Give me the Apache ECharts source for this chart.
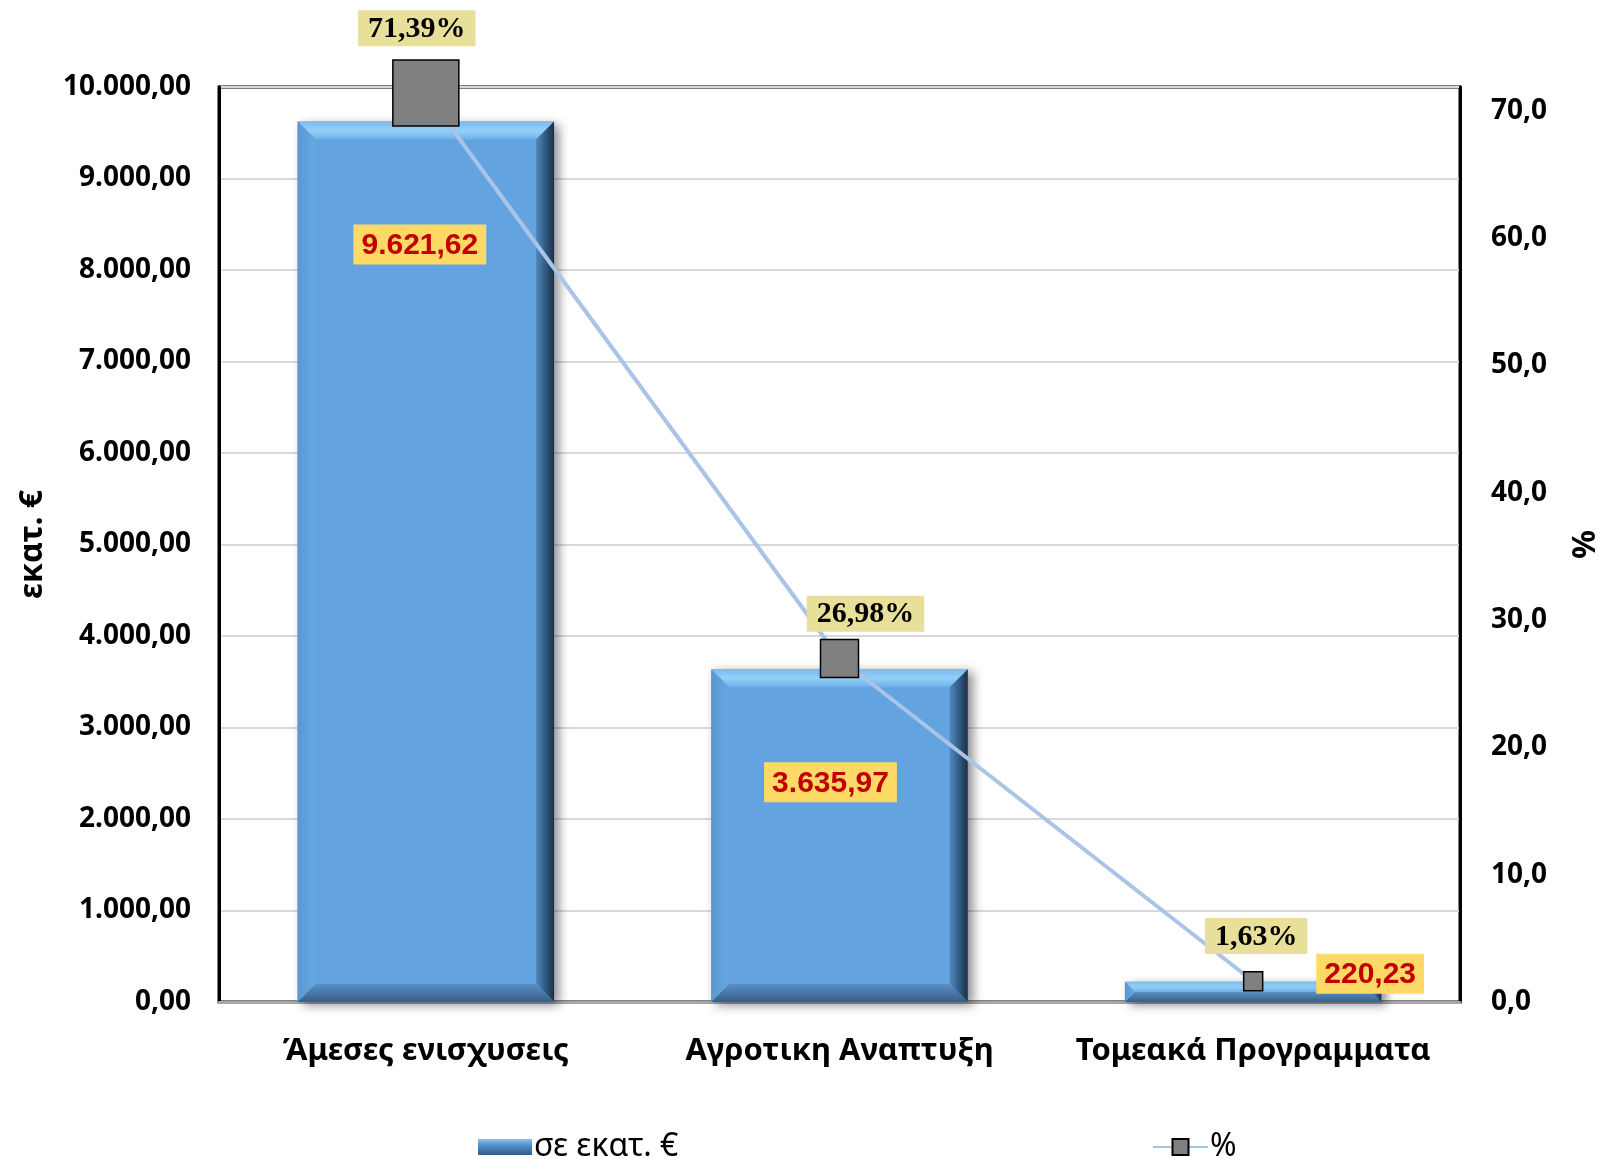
<!DOCTYPE html>
<html>
<head>
<meta charset="utf-8">
<script src="https://cdn.jsdelivr.net/npm/echarts@6/dist/echarts.min.js"></script>
<style>
html,body{margin:0;padding:0;background:#fff;overflow:hidden;}
#chart{width:1599px;height:1159px;}
</style>
</head>
<body>
<div id="chart"></div>
<script>
const categories = ['Άμεσες ενισχυσεις', 'Αγροτικη Αναπτυξη', 'Τομεακά Προγραμματα'];
const amounts = [9621.62, 3635.97, 220.23];
const percents = [71.39, 26.98, 1.63];
const barSeriesName = 'σε εκατ. €';
const pctSeriesName = '%';
const leftAxisName = 'εκατ. €';
const rightAxisName = '%';

function fmtGr(v, d) {
  const s = Number(v).toFixed(d);
  const parts = s.split('.');
  parts[0] = parts[0].replace(/\B(?=(\d{3})+(?!\d))/g, '.');
  return parts.length > 1 ? parts[0] + ',' + parts[1] : parts[0];
}

const chart = echarts.init(document.getElementById('chart'), null, {renderer: 'canvas', width: 1599, height: 1159});

const barLabelPos = [
  {position: 'insideTop', offset: [-6, 98]},
  {position: 'insideTop', offset: [-9, 88]},
  {position: 'top', offset: [117, 17]}
];
const pctLabelPos = [
  {offset: [-9, -8]},
  {offset: [26, -2]},
  {offset: [3, -12]}
];
const markerSizes = [66, 38, 19];

function renderBevelBar(params, api) {
  const idx = api.value(0);
  const v = api.value(1);
  const top = api.coord([idx, v]);
  const base = api.coord([idx, 0]);
  const w = api.size([1, 0])[0] * 0.62;
  const x0 = top[0] - w / 2, x1 = top[0] + w / 2;
  const y0 = top[1], y1 = base[1];
  const h = y1 - y0;
  const b = Math.min(18, h / 2);
  return {
    type: 'group',
    children: [
      {type: 'rect', shape: {x: x0, y: y0, width: w, height: h},
       style: {fill: '#63A4E0', shadowBlur: 10, shadowColor: 'rgba(0,0,0,0.45)', shadowOffsetX: 5, shadowOffsetY: 3}},
      {type: 'polygon', shape: {points: [[x0, y0], [x1, y0], [x1 - b, y0 + b], [x0 + b, y0 + b]]},
       style: {fill: new echarts.graphic.LinearGradient(0, 0, 0, 1, [
         {offset: 0, color: '#7DBBEE'}, {offset: 0.5, color: '#93CFF8'}, {offset: 1, color: '#6EAFE8'}])}},
      {type: 'polygon', shape: {points: [[x0, y0], [x0 + b, y0 + b], [x0 + b, y1 - b], [x0, y1]]},
       style: {fill: new echarts.graphic.LinearGradient(0, 0, 1, 0, [
         {offset: 0, color: '#5A97D0'}, {offset: 1, color: '#66A8E3'}])}},
      {type: 'polygon', shape: {points: [[x1, y0], [x1, y1], [x1 - b, y1 - b], [x1 - b, y0 + b]]},
       style: {fill: new echarts.graphic.LinearGradient(0, 0, 1, 0, [
         {offset: 0, color: '#4F89BF'}, {offset: 0.6, color: '#2E5378'}, {offset: 1, color: '#1B2F45'}])}},
      {type: 'polygon', shape: {points: [[x0, y1], [x1, y1], [x1 - b, y1 - b], [x0 + b, y1 - b]]},
       style: {fill: new echarts.graphic.LinearGradient(0, 0, 0, 1, [
         {offset: 0, color: '#5890C6'}, {offset: 1, color: '#385E86'}])}}
    ]
  };
}

const option = {
  backgroundColor: '#ffffff',
  animation: false,
  grid: {left: 219, right: 139, top: 87, bottom: 157, show: true, borderColor: '#000', borderWidth: 3,
         containLabel: false, outerBoundsMode: 'none'},
  legend: [
    {
      data: [{name: barSeriesName, icon: 'rect', itemStyle: {color: new echarts.graphic.LinearGradient(0, 0, 0, 1, [
        {offset: 0, color: '#8CC6F2'}, {offset: 0.3, color: '#5B9BD5'}, {offset: 1, color: '#2E5A85'}]), opacity: 1}}],
      left: 473, top: 1126, padding: 5, itemWidth: 54, itemHeight: 16, itemGap: 4,
      textStyle: {fontFamily: 'Noto Sans', fontSize: 32, color: '#000', padding: [0, 0, 0, -3]}
    },
    {
      data: [pctSeriesName],
      left: 1147, top: 1126, padding: 5, itemWidth: 55, itemHeight: 20, itemGap: 4,
      textStyle: {fontFamily: 'Noto Sans', fontSize: 32, color: '#000', padding: [0, 0, 0, -3]}
    }
  ],
  xAxis: {
    type: 'category',
    data: categories,
    axisLine: {show: true, lineStyle: {color: '#A6A6A6', width: 3}},
    axisTick: {show: false},
    axisLabel: {interval: 0, fontFamily: 'Noto Sans', fontWeight: 'bold', fontSize: 31, color: '#000', margin: 34}
  },
  yAxis: [
    {
      type: 'value', min: 0, max: 10000, interval: 1000,
      name: leftAxisName, nameLocation: 'middle', nameRotate: 90, nameGap: 170,
      nameTextStyle: {fontFamily: 'Noto Sans', fontWeight: 'bold', fontSize: 32, color: '#000'},
      axisLine: {show: true, lineStyle: {color: '#000', width: 3}},
      axisTick: {show: false},
      splitLine: {show: true, lineStyle: {color: '#D9D9D9', width: 2}},
      axisLabel: {fontFamily: 'Noto Sans', fontWeight: 'bold', fontSize: 28, color: '#000', margin: 28,
        formatter: v => fmtGr(v, 2)}
    },
    {
      type: 'value', min: 0, max: 71.86, interval: 10,
      name: rightAxisName, nameLocation: 'middle', nameRotate: -90, nameGap: 105,
      nameTextStyle: {fontFamily: 'Noto Sans', fontWeight: 'bold', fontSize: 32, color: '#000'},
      axisLine: {show: true, lineStyle: {color: '#000', width: 3}},
      axisTick: {show: false},
      splitLine: {show: false},
      axisLabel: {fontFamily: 'Noto Sans', fontWeight: 'bold', fontSize: 28, color: '#000', margin: 31,
        showMaxLabel: false, formatter: v => fmtGr(v, 1)}
    }
  ],
  series: [
    {
      type: 'custom',
      name: 'bevel',
      coordinateSystem: 'cartesian2d',
      z: 1,
      silent: true,
      renderItem: renderBevelBar,
      data: amounts.map((v, i) => [i, v])
    },
    {
      type: 'bar',
      name: barSeriesName,
      yAxisIndex: 0,
      barWidth: '62%',
      z: 2,
      itemStyle: {color: 'rgba(0,0,0,0)'},
      label: {
        show: true,
        formatter: p => fmtGr(p.value, 2),
        fontFamily: 'Liberation Sans', fontWeight: 'bold', fontSize: 30, color: '#C00000',
        backgroundColor: '#FFD966', padding: [6, 8, 4, 8]
      },
      data: amounts.map((v, i) => ({value: v, label: barLabelPos[i]}))
    },
    {
      type: 'line',
      name: pctSeriesName,
      yAxisIndex: 1,
      z: 5,
      symbol: 'rect',
      lineStyle: {color: '#A9C4E6', width: 4},
      itemStyle: {color: '#808080', borderColor: '#000', borderWidth: 1.5},
      label: {
        show: true, position: 'top',
        formatter: p => fmtGr(p.value, 2) + '%',
        fontFamily: 'Liberation Serif', fontWeight: 'bold', fontSize: 30, color: '#000',
        backgroundColor: '#E8E09A', padding: [4, 10, 2, 10]
      },
      data: percents.map((v, i) => ({value: v, symbolSize: markerSizes[i], label: pctLabelPos[i]}))
    }
  ]
};
chart.setOption(option);
</script>
</body>
</html>
